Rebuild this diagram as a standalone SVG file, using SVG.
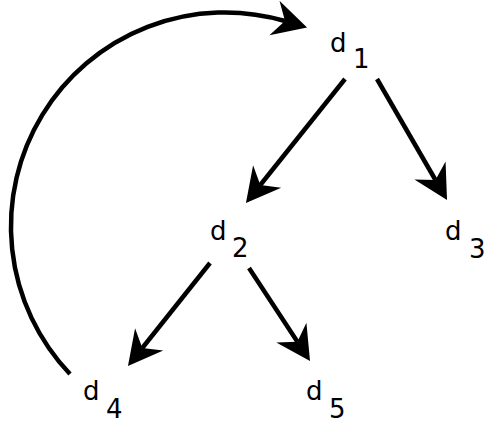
<svg xmlns="http://www.w3.org/2000/svg" width="502" height="437" viewBox="0 0 502 437">
<style>
.lbl{font-family:"DejaVu Sans","Liberation Sans",sans-serif;font-size:26px;fill:#000}
.edge{fill:none;stroke:#000;stroke-width:4.5}
</style>
<defs>
<marker id="ah" markerUnits="userSpaceOnUse" markerWidth="40" markerHeight="40" viewBox="0 -20 36 40" refX="11" refY="0" orient="auto">
<path d="M0,-18 L34,0 L0,18 L11,0 Z" fill="#000"/>
</marker>
</defs>
<rect width="502" height="437" fill="#fff"/>
<g id="connectors">
<path class="edge" d="M377,79 L435.5,180" marker-end="url(#ah)"/>
<path class="edge" d="M345,79 L260.3,185" marker-end="url(#ah)"/>
<path class="edge" d="M210,263 L142.3,348" marker-end="url(#ah)"/>
<path class="edge" d="M249,268 L297.4,341.8" marker-end="url(#ah)"/>
<path class="edge" d="M70,374 A214,214 0 0 1 285,21" marker-end="url(#ah)"/>
</g>
<g id="d1"><text class="lbl" x="330" y="52">d</text><text class="lbl" x="353" y="68">1</text></g>
<g id="d2"><text class="lbl" x="210" y="240">d</text><text class="lbl" x="232" y="257">2</text></g>
<g id="d3"><text class="lbl" x="445" y="240">d</text><text class="lbl" x="469" y="258">3</text></g>
<g id="d4"><text class="lbl" x="83" y="400">d</text><text class="lbl" x="106" y="418">4</text></g>
<g id="d5"><text class="lbl" x="306" y="400">d</text><text class="lbl" x="329" y="418">5</text></g>
</svg>
